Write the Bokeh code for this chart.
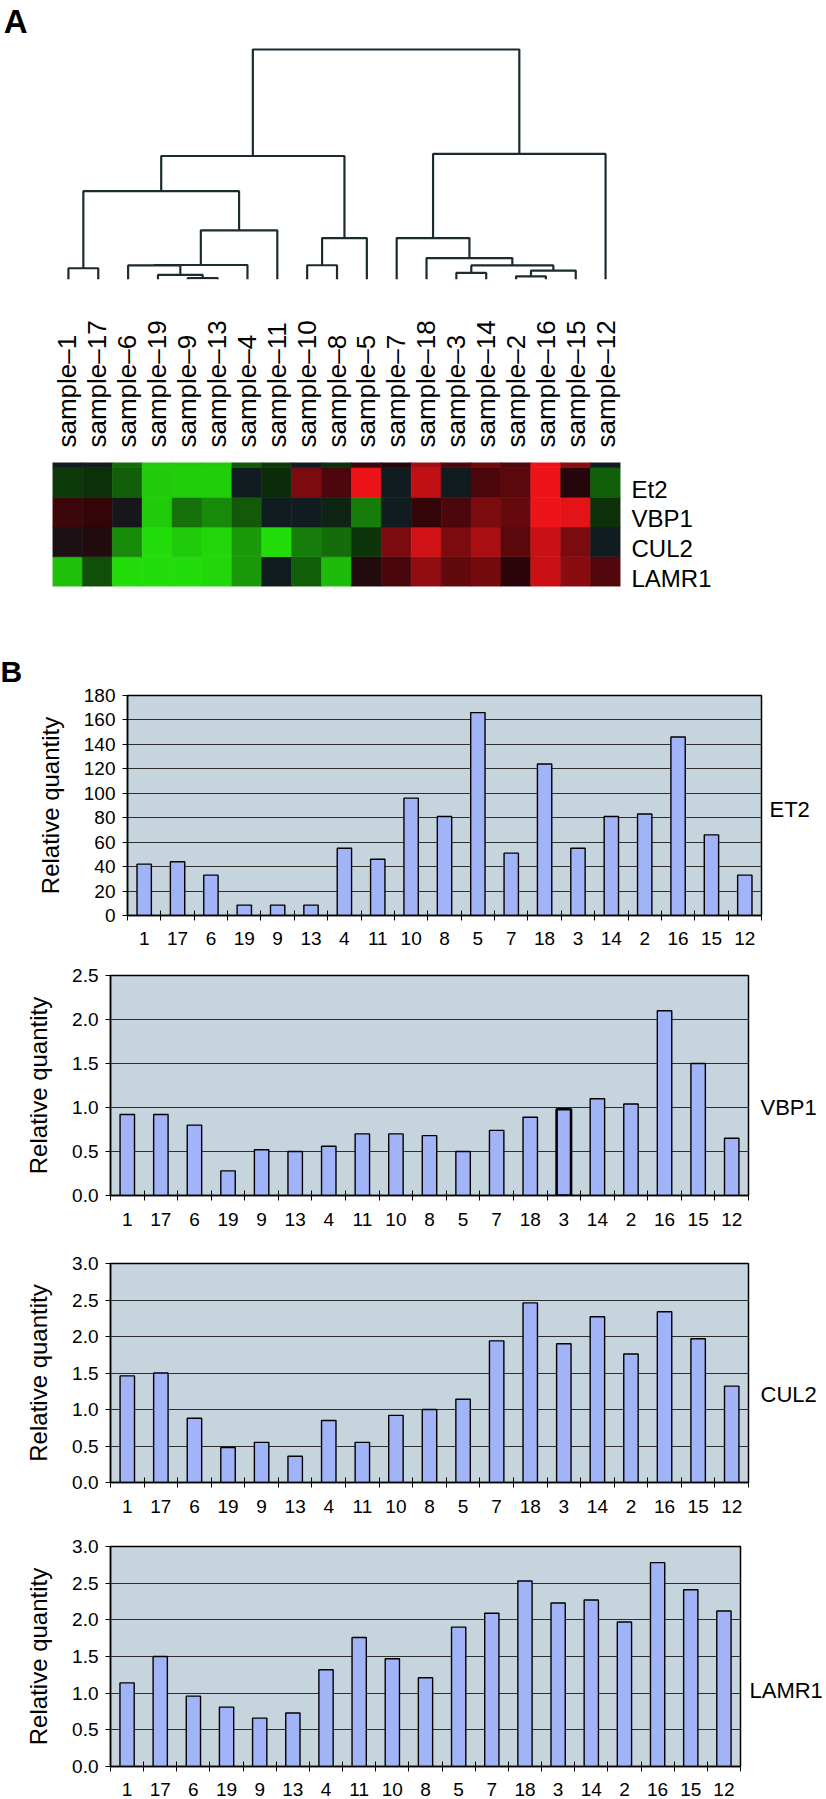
import numpy as np
from bokeh.plotting import figure
from bokeh.models import (Range1d, FixedTicker, LinearColorMapper, ColumnDataSource,
                          PrintfTickFormatter, LinearAxis)
from bokeh.layouts import column
from bokeh.embed import file_html
from bokeh.resources import INLINE
from bokeh.transform import transform

FONT = "Liberation Sans"

# ---------------- data ----------------
samples = ["1", "17", "6", "19", "9", "13", "4", "11", "10", "8",
           "5", "7", "18", "3", "14", "2", "16", "15", "12"]
sample_labels = ["sample\u2013" + s for s in samples]

# hierarchical clustering: (left, right, height); 0..18 = leaves (sample order), 19+ = merges
linkage = [
    (4, 5, 0.006),    # 19: 9,13
    (3, 19, 0.020),   # 20: 19
    (2, 20, 0.061),   # 21: 6
    (21, 6, 0.063),   # 22: 4
    (0, 1, 0.049),    # 23: 1,17
    (22, 7, 0.214),   # 24: 11
    (23, 24, 0.384),  # 25
    (8, 9, 0.062),    # 26: 10,8
    (26, 10, 0.180),  # 27: 5
    (25, 27, 0.537),  # 28
    (15, 16, 0.014),  # 29: 2,16
    (13, 14, 0.029),  # 30: 3,14
    (29, 17, 0.039),  # 31: 15
    (30, 31, 0.061),  # 32
    (12, 32, 0.093),  # 33: 18
    (11, 33, 0.180),  # 34: 7
    (34, 18, 0.546),  # 35: 12
    (28, 35, 1.000),  # 36: root
]

heat_genes = ["LAMR1", "CUL2", "VBP1", "Et2"]          # bottom to top
heat_lamr1 = [-0.85, -0.28, -1.0, -1.0, -1.0, -0.97, -0.66, 0.0, -0.36, -0.83,
              0.07, 0.25, 0.58, 0.36, 0.44, 0.11, 0.84, 0.55, 0.29]
heat_cul2 = [0.05, 0.07, -0.58, -1.0, -0.91, -0.97, -0.66, -1.0, -0.51, -0.43,
             -0.14, 0.48, 0.87, 0.48, 0.69, 0.33, 0.84, 0.48, 0.0]
heat_vbp1 = [0.19, 0.15, 0.02, -0.91, -0.45, -0.58, -0.33, 0.0, 0.0, -0.05,
             -0.51, 0.0, 0.15, 0.26, 0.48, 0.38, 1.0, 0.96, -0.12]
heat_et2 = [-0.17, -0.12, -0.36, -0.91, -0.93, -0.93, 0.0, -0.10, 0.48, 0.26,
            1.0, 0.0, 0.80, 0.0, 0.26, 0.33, 1.0, 0.09, -0.36]
heat_cut_row = [0.0, 0.0, -0.42, -0.91, -0.91, -0.91, -0.33, -0.17, 0.0, -0.12,
                0.19, 0.09, 0.65, 0.26, 0.41, 0.26, 1.0, 0.55, 0.0]

et2 = [42, 44, 33, 8.5, 8.5, 8.5, 55, 46, 96, 81, 166, 51, 124, 55, 81, 83, 146, 66, 33]
vbp1 = [0.92, 0.92, 0.80, 0.28, 0.52, 0.50, 0.56, 0.70, 0.70, 0.68,
        0.50, 0.74, 0.89, 0.98, 1.10, 1.04, 2.10, 1.50, 0.65]
cul2 = [1.46, 1.50, 0.88, 0.48, 0.55, 0.36, 0.85, 0.55, 0.92, 1.00,
        1.14, 1.94, 2.46, 1.90, 2.27, 1.76, 2.34, 1.97, 1.32]
lamr1 = [1.14, 1.50, 0.96, 0.81, 0.66, 0.73, 1.32, 1.76, 1.47, 1.21,
         1.90, 2.09, 2.53, 2.23, 2.27, 1.97, 2.78, 2.41, 2.12]

et2_ticks = [0, 20, 40, 60, 80, 100, 120, 140, 160, 180]
vbp1_ticks = [0.0, 0.5, 1.0, 1.5, 2.0, 2.5]
cul2_ticks = [0.0, 0.5, 1.0, 1.5, 2.0, 2.5, 3.0]
lamr1_ticks = [0.0, 0.5, 1.0, 1.5, 2.0, 2.5, 3.0]
highlighted = {"VBP1": "3"}

# ---------------- styles ----------------
W = 826
BG = "#c5d4dd"
BAR = "#a2b4f8"
DEND = "#1c2b30"
n = len(samples)

stops = [(-1.0, (34, 221, 10)), (-0.1, (12, 44, 10)), (0.0, (16, 28, 32)),
         (0.1, (40, 4, 8)), (1.0, (236, 20, 24))]
palette = []
for i in range(201):
    v = -1 + 2 * i / 200
    for (v0, c0), (v1, c1) in zip(stops, stops[1:]):
        if v0 <= v <= v1:
            t = (v - v0) / (v1 - v0)
            c = tuple(int(round(a + (b - a) * t)) for a, b in zip(c0, c1))
            break
    palette.append("#%02x%02x%02x" % c)


def base_fig(height, left, fw, top, fh, xr, yr, **kw):
    return figure(width=W, height=height, x_range=xr, y_range=yr,
                  min_border_left=left, min_border_right=W - left - fw,
                  min_border_top=top, min_border_bottom=height - top - fh,
                  output_backend="svg", toolbar_location=None, **kw)


def label_axis(ticks, labels, size, standoff, style="normal"):
    return LinearAxis(ticker=FixedTicker(ticks=ticks),
                      major_label_overrides={t: s for t, s in zip(ticks, labels)},
                      axis_line_color=None, major_tick_line_color=None,
                      minor_tick_line_color=None, major_tick_out=0, major_tick_in=0,
                      major_label_standoff=standoff, major_label_text_font=FONT,
                      major_label_text_font_size=size, major_label_text_font_style=style,
                      major_label_text_color="black")


# ---------------- dendrogram ----------------
dh = 300
d_fh = 279
d_top = d_fh / 230.0
dend = base_fig(dh, 52, 568, 0, d_fh, Range1d(-0.5, n - 0.5), Range1d(0, d_top),
                x_axis_location=None, y_axis_location=None, outline_line_color=None)
dend.grid.visible = False
pos = {i: (float(i), 0.0) for i in range(n)}
xs, ys = [], []
for k, (a, b, h) in enumerate(linkage):
    xa, ha = pos[a]
    xb, hb = pos[b]
    xs.append([xa, xa, xb, xb])
    ys.append([ha, h, h, hb])
    pos[n + k] = ((xa + xb) / 2.0, h)
dend.multi_line(xs, ys, line_color=DEND, line_width=2.2)
a_tick = (279 - 21) / 230.0
dend.add_layout(label_axis([a_tick], ["A"], "33px", 26, "bold"), "left")

# ---------------- heatmap ----------------
hh = 330
heat_rows = [heat_lamr1, heat_cul2, heat_vbp1, heat_et2, heat_cut_row]
hx, hy, hv = [], [], []
for r, row in enumerate(heat_rows):
    for c, v in enumerate(row):
        hx.append(c)
        hy.append(r + 0.5)
        hv.append(v)
src = ColumnDataSource(dict(x=hx, y=hy, v=hv))
mapper = LinearColorMapper(palette=palette, low=-1, high=1)
heat = base_fig(hh, 52, 568, 162, 124, Range1d(-0.5, n - 0.5), Range1d(0, 4.17),
                x_axis_location=None, y_axis_location=None, outline_line_color=None)
heat.grid.visible = False
heat.rect(x="x", y="y", width=1, height=1, source=src,
          fill_color=transform("v", mapper), line_color=transform("v", mapper), line_width=0.6)

top_axis = label_axis(list(range(n)), sample_labels, "26px", 15)
top_axis.major_label_orientation = "vertical"
heat.add_layout(top_axis, "above")
gene_ticks = [k + 0.5 - 0.23 for k in range(len(heat_genes))]
heat.add_layout(label_axis(gene_ticks, heat_genes, "24px", 11), "right")


# ---------------- bar charts ----------------
def bar_chart(values, ymax, ticks, fmt, gene, height, left, fw, top, fh,
              label_frac, label_dx, x_standoff, panel=None):
    p = base_fig(height, left, fw, top, fh, Range1d(-0.5, n - 0.5), Range1d(0, ymax),
                 background_fill_color=BG, border_fill_color="white",
                 outline_line_color="black", outline_line_width=1.5)
    hl = highlighted.get(gene)
    lw = [2.6 if s == hl else 1.4 for s in samples]
    p.vbar(x=list(range(n)), top=values, width=0.43, bottom=0,
           fill_color=BAR, line_color="black", line_width=lw)
    xa = p.xaxis[0]
    xa.ticker = FixedTicker(ticks=list(range(n)), minor_ticks=[i - 0.5 for i in range(n + 1)])
    xa.major_label_overrides = {i: s for i, s in enumerate(samples)}
    xa.major_tick_line_color = None
    xa.major_tick_out = 0
    xa.major_tick_in = 0
    xa.minor_tick_line_color = "black"
    xa.minor_tick_in = 5
    xa.minor_tick_out = 5
    xa.minor_tick_line_width = 1
    xa.axis_line_color = "black"
    xa.axis_line_width = 1.5
    xa.major_label_standoff = x_standoff
    xa.major_label_text_font = FONT
    xa.major_label_text_font_size = "19px"
    xa.major_label_text_color = "black"

    ya = p.yaxis[0]
    ya.ticker = FixedTicker(ticks=ticks)
    if fmt:
        ya.formatter = PrintfTickFormatter(format=fmt)
    ya.minor_tick_line_color = None
    ya.major_tick_in = 0
    ya.major_tick_out = 5
    ya.major_tick_line_color = "black"
    ya.axis_line_color = "black"
    ya.axis_line_width = 1.5
    ya.major_label_standoff = 7
    ya.major_label_text_font = FONT
    ya.major_label_text_font_size = "19px"
    ya.major_label_text_color = "black"
    ya.axis_label = "Relative quantity"
    ya.axis_label_text_font = FONT
    ya.axis_label_text_font_size = "24px"
    ya.axis_label_text_font_style = "normal"
    ya.axis_label_text_color = "black"
    ya.axis_label_standoff = 17

    p.xgrid.grid_line_color = None
    p.ygrid.grid_line_color = "#2e2e2e"
    p.ygrid.grid_line_width = 1

    p.add_layout(label_axis([ymax * label_frac], [gene.upper()], "22px", label_dx), "right")
    if panel:
        p.title.text = panel
        p.title.text_font = FONT
        p.title.text_font_size = "30px"
        p.title.text_font_style = "bold"
        p.title.text_color = "black"
        p.title.align = "left"
        p.title.offset = -left
        p.title.standoff = 15
    return p


c1 = bar_chart(et2, 180, et2_ticks, None, "ET2", 320, 127, 634, 65, 220, 0.483, 8, 11, panel="B")
c2 = bar_chart(vbp1, 2.5, vbp1_ticks, "%.1f", "VBP1", 285, 110, 638, 25, 220, 0.401, 12, 12)
c3 = bar_chart(cul2, 3.0, cul2_ticks, "%.1f", "CUL2", 285, 110, 638, 28, 219, 0.401, 12, 12)
c4 = bar_chart(lamr1, 3.0, lamr1_ticks, "%.1f", "LAMR1", 279, 110, 630, 26, 220, 0.344, 9, 11)

figs = [dend, heat, c1, c2, c3, c4]
layout = column(*[column(f, spacing=0) for f in figs], spacing=0)
open("out.html", "w").write(file_html(layout, INLINE))
